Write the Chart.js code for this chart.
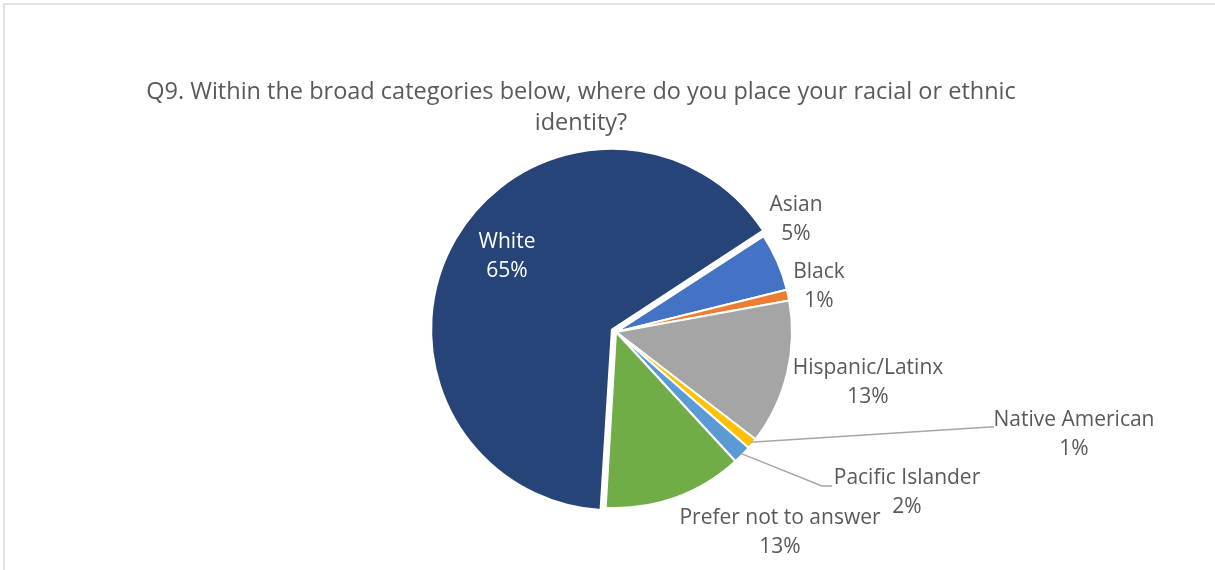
<!DOCTYPE html>
<html>
<head>
<meta charset="utf-8">
<script src="https://cdn.jsdelivr.net/npm/chart.js@4/dist/chart.umd.min.js"></script>
<style>
  html, body { margin: 0; padding: 0; background: #fff; }
  canvas { display: block; }
</style>
</head>
<body>
<canvas id="pieChart" width="1215" height="570"></canvas>
<script>
const titleLines = [
  "Q9. Within the broad categories below, where do you place your racial or ethnic",
  "identity?",
];
const categories = [
  "Asian",
  "Black",
  "Hispanic/Latinx",
  "Native American",
  "Pacific Islander",
  "Prefer not to answer",
  "White",
];
const shares = [5.3, 1.0, 13.3, 1.0, 1.7, 12.8, 64.9];
const shareLabels = ["5%", "1%", "13%", "1%", "2%", "13%", "65%"];
const sliceColors = [
  "#4472C4",
  "#ED7D31",
  "#A5A5A5",
  "#FFC000",
  "#5B9BD5",
  "#70AD47",
  "#264478",
];

// where each label's text block is centred, plus optional leader line
const labelLayout = {
  "Asian": { x: 796, y: 220 },
  "Black": { x: 819, y: 287 },
  "Hispanic/Latinx": { x: 868, y: 383 },
  "Native American": { x: 1074, y: 435, leader: { x: 990, y: 427, end: 994 } },
  "Pacific Islander": { x: 907, y: 493, leader: { x: 822, y: 486, end: 832 } },
  "Prefer not to answer": { x: 780, y: 533 },
  "White": { x: 507, y: 257, color: "#ffffff" },
};

const frameAndTitle = {
  id: "frameAndTitle",
  beforeDraw(chart) {
    const ctx = chart.ctx;
    ctx.save();
    ctx.strokeStyle = "#d9d9d9";
    ctx.lineWidth = 1.5;
    ctx.beginPath();
    ctx.moveTo(4, chart.height);
    ctx.lineTo(4, 4);
    ctx.lineTo(chart.width, 4);
    ctx.stroke();
    ctx.fillStyle = "#595959";
    ctx.font = "23.5px 'Open Sans'";
    ctx.textAlign = "center";
    ctx.textBaseline = "middle";
    titleLines.forEach((t, i) => ctx.fillText(t, 581, 92 + i * 31));
    ctx.restore();
  },
};

const sliceLabels = {
  id: "sliceLabels",
  afterDatasetsDraw(chart) {
    const ctx = chart.ctx;
    const arcs = chart.getDatasetMeta(0).data;
    ctx.save();
    ctx.font = "21px 'Open Sans'";
    ctx.textAlign = "center";
    ctx.textBaseline = "middle";
    categories.forEach((name, i) => {
      const pos = labelLayout[name];
      if (pos.leader) {
        const arc = arcs[i];
        const mid = (arc.startAngle + arc.endAngle) / 2;
        const r = arc.outerRadius - 2;
        ctx.strokeStyle = "#a6a6a6";
        ctx.lineWidth = 1.5;
        ctx.beginPath();
        ctx.moveTo(arc.x + Math.cos(mid) * r, arc.y + Math.sin(mid) * r);
        ctx.lineTo(pos.leader.x, pos.leader.y);
        ctx.lineTo(pos.leader.end, pos.leader.y);
        ctx.stroke();
      }
      ctx.fillStyle = pos.color || "#595959";
      ctx.fillText(name, pos.x, pos.y - 14.5);
      ctx.fillText(shareLabels[i], pos.x, pos.y + 14.5);
    });
    ctx.restore();
  },
};

new Chart(document.getElementById("pieChart"), {
  type: "pie",
  data: {
    labels: categories,
    datasets: [
      {
        data: shares,
        backgroundColor: sliceColors,
        borderColor: "#ffffff",
        borderWidth: 2,
        offset: [0, 0, 0, 0, 0, 0, 19],
      },
    ],
  },
  options: {
    responsive: false,
    animation: false,
    rotation: 57,
    radius: 176,
    layout: { padding: { left: 17, right: 0, top: 150, bottom: 56 } },
    plugins: {
      legend: { display: false },
      tooltip: { enabled: false },
      title: { display: false },
    },
  },
  plugins: [frameAndTitle, sliceLabels],
});
</script>
</body>
</html>
